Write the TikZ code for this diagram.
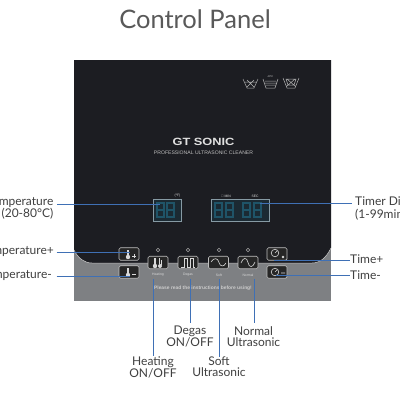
\documentclass[tikz,border=0pt]{standalone}
\usepackage{fontspec}
\setmainfont{Lato}
\newfontfamily\panelfont{Liberation Sans}
\begin{document}
\begin{tikzpicture}[x=1pt,y=-1pt,
  lab/.style={text=black!75,font=\fontsize{12}{11}\selectfont,inner sep=0pt,align=center},
  keybox/.style={draw=white!75!black,line width=0.7pt,rounded corners=1.5pt,fill=black!85,minimum width=20pt,minimum height=12.5pt,inner sep=0pt},
  disp/.style={draw=gray!80!cyan,line width=0.8pt,fill=dispbg,inner sep=0pt},
  led/.style={draw=gray!70,line width=0.6pt,circle,minimum size=3.4pt,inner sep=0pt},
  conn/.style={draw=lineblue,line width=0.9pt},
  tiny/.style={text=white!85!black,font=\panelfont\fontsize{3.4}{4}\selectfont,inner sep=0pt},
  icon/.style={draw=white!85!black,line width=0.6pt},
  iconfill/.style={fill=white!85!black,draw=none},
  wash/.style={draw=white!70!black,line width=0.5pt},
  seg/.style={draw=segcol,line width=1.2pt}]
\definecolor{dispbg}{HTML}{1B2A33}
\definecolor{lineblue}{HTML}{3F70B5}
\definecolor{segcol}{HTML}{1F5468}
\definecolor{paneldark}{HTML}{1C1D22}
\definecolor{panelgray}{HTML}{7E8083}
\useasboundingbox (0,0) rectangle (400,400);
\fill[white] (0,0) rectangle (400,400);
\node[text=black!65,font=\fontsize{25.5}{28}\selectfont,inner sep=0pt] (title) at (195,19) {Control Panel};
% panel
\fill[panelgray] (74,60) rectangle (331,301);
\fill[paneldark] (74,60) -- (331,60) -- (331,248) .. controls (326,258) and (320,263) .. (312,263) -- (92,263) .. controls (84,263) and (78,258) .. (74,250) -- cycle;
\draw[white!80!black,line width=0.5pt] (331,248) .. controls (326,258) and (320,263) .. (312,263) -- (92,263) .. controls (84,263) and (78,258) .. (74,250);
% wash symbols
\draw[wash] (243,79) -- (247,88) -- (254,88) -- (258,79) (245,82) -- (256,82) (247,80) -- (254,87) (254,80) -- (247,87);
\draw[wash] (263,79) -- (266,88) -- (275,88) -- (278,79) (265,81) -- (276,81) (265,83) -- (276,83) (266,85) -- (275,85);
\draw[wash] (283,78) -- (287,88) -- (295,88) -- (299,78) (286,79) -- (296,79) -- (294,85) -- (288,85) -- cycle (287,79) -- (295,86) (295,79) -- (287,86);
\node[tiny,font=\panelfont\fontsize{2.5}{3}\selectfont] (washt) at (270.5,76.5) {40°C};
% brand
\node[text=white!88!black,inner sep=0pt,font=\panelfont\bfseries\fontsize{10.5}{12}\selectfont,xscale=1.22] (brand) at (203.5,141.5) {GT SONIC};
\node[text=white!75!black,inner sep=0pt,font=\panelfont\fontsize{5.1}{6}\selectfont] (slogan) at (203.5,153) {PROFESSIONAL ULTRASONIC CLEANER};
% displays
\node[disp,minimum width=28pt,minimum height=22pt] (dtemp) at (167.5,210) {};
\node[disp,minimum width=58pt,minimum height=21.5pt] (dtime) at (240,210.5) {};
\foreach \dx in {157,167,215,226,243,254}{
  \draw[seg] (\dx,203) -- (\dx+7,203) -- (\dx+7,217) -- (\dx,217) -- cycle (\dx,210) -- (\dx+7,210);
}
\node[tiny] (tempunit) at (177.5,196) {(ºF)};
\node[tiny] (minunit) at (226,196) {⊙ MIN};
\node[tiny] (secunit) at (255,196) {SEC};
% keys
\node[keybox] (ktp) at (129,254) {};
\node[keybox] (ktm) at (129,272) {};
\node[keybox] (kheat) at (158,262.5) {};
\node[keybox] (kdeg) at (188,262.5) {};
\node[keybox] (ksoft) at (218.5,262.5) {};
\node[keybox] (knorm) at (248,262.5) {};
\node[keybox] (ktip) at (277,254) {};
\node[keybox] (ktim) at (277,272) {};
\node[led] (l1) at (158,250) {};
\node[led] (l2) at (188,250) {};
\node[led] (l3) at (219,250) {};
\node[led] (l4) at (248,250) {};
% key icons
\fill[white!85!black] (127,250) rectangle (129,256);
\fill[white!85!black] (128,257) circle (2.2);
\draw[icon] (132,256) -- (136,256) (134,254) -- (134,258);
\fill[white!85!black] (127,268) rectangle (129,274);
\fill[white!85!black] (128,275) circle (2.2);
\draw[icon] (132,274.5) -- (136,274.5);
\fill[white!85!black] (154,258) rectangle (156,265);
\fill[white!85!black] (155,266) circle (2.2);
\draw[icon] (159,258) -- (159,264) (161,260) -- (161,265);
\fill[white!85!black] (160,266) circle (2);
\draw[icon] (181,267) -- (184,267) -- (184,258) -- (187,258) -- (187,267) -- (190,267) -- (190,258) -- (193,258) -- (193,267) -- (195,267);
\draw[icon] (211,262) .. controls (214,257) and (218,258) .. (219,262.5) .. controls (220,267) and (224,267) .. (226,263);
\draw[icon] (241,263) .. controls (243,257) and (247,257) .. (248,262.5) .. controls (249,268) and (253,268) .. (255,262);
\draw[icon] (275,253) circle (3.8) (275,253) -- (277,251);
\fill[white!85!black] (283,257) circle (1.4);
\draw[icon] (275,272) circle (3.8) (275,272) -- (277,270) (281,273) -- (285,273);
% small captions
\node[tiny] (theat) at (158,275) {Heating};
\node[tiny] (tdeg) at (188,275) {Degas};
\node[tiny] (tsoft) at (219,275) {Soft};
\node[tiny] (tnorm) at (248,275) {Normal};
\node[text=white!80!black,inner sep=0pt,font=\panelfont\bfseries\fontsize{4.9}{6}\selectfont] (notice) at (203,288.5) {Please read the instructions before using!};
% labels
\node[lab,anchor=east,align=right] (ltemp) at (53.5,208.5) {Temperature\\Display (20-80°C)};
\node[lab,anchor=east] (ltp) at (54,251.5) {Temperature+};
\node[lab,anchor=east] (ltm) at (52,275) {Temperature-};
\node[lab,anchor=west,align=left] (ltime) at (355,208.5) {Timer Display\\(1-99min)};
\node[lab,anchor=west] (ltip) at (350,259.5) {Time+};
\node[lab,anchor=west] (ltim) at (350,275) {Time-};
\node[lab] (lheat) at (153,367) {Heating\\ON/OFF};
\node[lab] (ldeg) at (190,336.5) {Degas\\ON/OFF};
\node[lab] (lsoft) at (219,367) {Soft\\Ultrasonic};
\node[lab] (lnorm) at (253.5,336.5) {Normal\\Ultrasonic};
% connector ends
\coordinate (a1) at (160,204);
\coordinate (a2) at (260,203.5);
\coordinate (a3) at (130,252);
\coordinate (a4) at (130,276);
\coordinate (a5) at (274,260);
\coordinate (a6) at (276,275);
\coordinate (a7) at (153,279);
\coordinate (a8) at (190,279);
\coordinate (a9) at (219,279);
\coordinate (a10) at (254,279);
\draw[conn] (57,204) -- (a1);
\draw[conn] (a2) -- (352,203.5);
\draw[conn] (56.5,252) -- (a3);
\draw[conn] (56.5,276) -- (a4);
\draw[conn] (a5) -- (ltip.west |- a5);
\draw[conn] (a6) -- (ltim.west |- a6);
\draw[conn] (a7) -- (lheat.north |- 0,356);
\draw[conn] (a8) -- (ldeg.north |- 0,323);
\draw[conn] (a9) -- (lsoft.north |- 0,357);
\draw[conn] (a10) -- (254,323);
\end{tikzpicture}
\end{document}
